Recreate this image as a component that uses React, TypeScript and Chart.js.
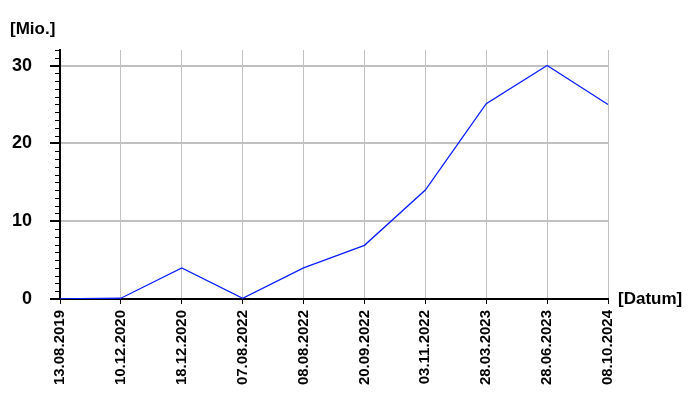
import React, { useEffect, useRef } from "react";
import { Chart, registerables } from "chart.js";

Chart.register(...registerables);

const categories = [
  "13.08.2019",
  "10.12.2020",
  "18.12.2020",
  "07.08.2022",
  "08.08.2022",
  "20.09.2022",
  "03.11.2022",
  "28.03.2023",
  "28.06.2023",
  "08.10.2024",
];
const values = [0, 0.1, 4.0, 0.1, 4.0, 6.9, 14.0, 25.1, 30.0, 25.0];
const yTicks = [0, 10, 20, 30];
const yTitle = "[Mio.]";
const xTitle = "[Datum]";

const FONT = "'Liberation Sans', Arial, sans-serif";

const extrasPlugin = {
  id: "extras",
  afterDraw(chart: any) {
    const ctx = chart.ctx;
    const y = chart.scales.y;
    const area = chart.chartArea;
    ctx.save();
    ctx.strokeStyle = "#000";
    ctx.lineWidth = 1;
    for (let v = Math.ceil(y.min); v <= y.max; v++) {
      if (v % 10 === 0) continue;
      const py = Math.round(y.getPixelForValue(v)) + 0.5;
      ctx.beginPath();
      ctx.moveTo(area.left - 5, py);
      ctx.lineTo(area.left, py);
      ctx.stroke();
    }
    ctx.fillStyle = "#000";
    ctx.font = "bold 17px " + FONT;
    ctx.textAlign = "left";
    ctx.textBaseline = "alphabetic";
    ctx.fillText(yTitle, 10, 34);
    ctx.textBaseline = "middle";
    ctx.fillText(xTitle, area.right + 10, y.getPixelForValue(0));
    ctx.restore();
  },
};

export default function App() {
  const ref = useRef<HTMLCanvasElement | null>(null);
  useEffect(() => {
    if (!ref.current) return;
    const chart = new Chart(ref.current, {
      type: "line",
      data: {
        labels: categories,
        datasets: [
          {
            data: values,
            borderColor: "#0a1eff",
            borderWidth: 1.3,
            pointRadius: 0,
            tension: 0,
            fill: false,
          },
        ],
      },
      options: {
        animation: false,
        responsive: false,
        maintainAspectRatio: false,
        layout: { padding: { left: 0, top: 50, right: 92, bottom: 0 } },
        plugins: { legend: { display: false }, tooltip: { enabled: false }, title: { display: false } },
        scales: {
          x: {
            type: "category",
            offset: false,
            border: { color: "#000", width: 2 },
            grid: {
              color: (c: any) => (c.index === 0 ? "rgba(0,0,0,0)" : "#c0c0c0"),
              lineWidth: 1,
              tickColor: "#000",
              tickLength: 5,
              drawTicks: true,
            },
            ticks: {
              autoSkip: false,
              minRotation: 90,
              maxRotation: 90,
              padding: 6,
              color: "#000",
              font: { family: FONT, size: 15, weight: "bold" },
            },
            afterFit: (s: any) => {
              s.height = 101;
            },
          },
          y: {
            type: "linear",
            min: 0,
            max: 32,
            border: { color: "#000", width: 2 },
            grid: {
              color: (c: any) => (c.tick && c.tick.value === 0 ? "rgba(0,0,0,0)" : "#c0c0c0"),
              lineWidth: 2,
              tickColor: "#000",
              tickLength: 10,
              tickWidth: 2,
            },
            afterBuildTicks: (s: any) => {
              s.ticks = yTicks.map((v) => ({ value: v }));
            },
            ticks: {
              autoSkip: false,
              includeBounds: false,
              padding: 18,
              color: "#000",
              font: { family: FONT, size: 18, weight: "bold" },
              callback: (v: any) => String(v),
            },
            afterFit: (s: any) => {
              s.width = 60;
            },
          },
        },
      },
      plugins: [extrasPlugin],
    });
    return () => chart.destroy();
  }, []);
  return (
    <div style={{ position: "fixed", left: 0, top: 0, width: 700, height: 400, background: "#fff" }}>
      <canvas ref={ref} width={700} height={400} style={{ width: 700, height: 400 }} />
    </div>
  );
}
